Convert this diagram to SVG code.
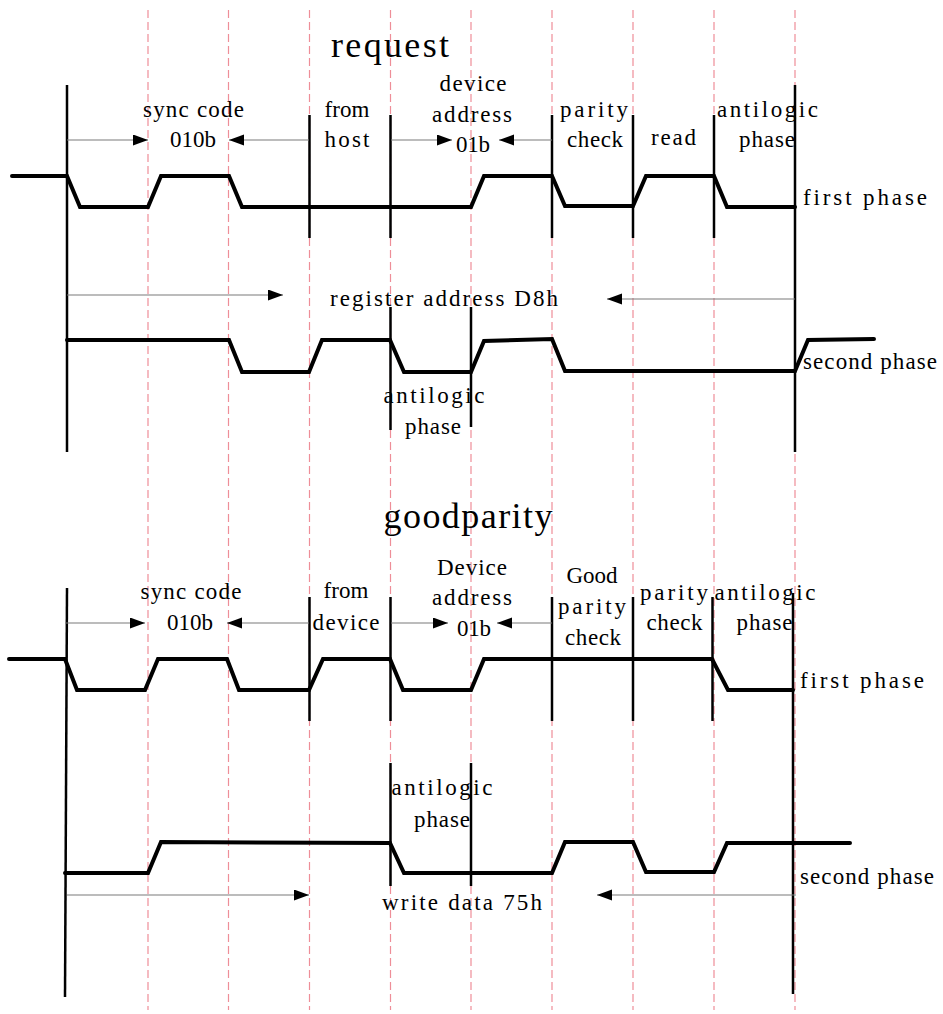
<svg xmlns="http://www.w3.org/2000/svg" width="943" height="1014" viewBox="0 0 943 1014">
<style>
.grid{stroke:#ee8e98;stroke-width:1.2;stroke-dasharray:8,4;fill:none}
.sig{stroke:#000;stroke-width:4;fill:none;stroke-linejoin:miter;stroke-linecap:round}
.bar{stroke:#000;stroke-width:2.5;fill:none}
.arr{stroke:#7a7a7a;stroke-width:1.2;fill:none;marker-end:url(#ah)}
text{font-family:"Liberation Serif","DejaVu Serif",serif;font-size:23px;fill:#000;text-anchor:middle}
.title{font-size:36px}
.lft{text-anchor:start}
</style>
<defs>
<marker id="ah" markerUnits="userSpaceOnUse" markerWidth="16" markerHeight="12" refX="15" refY="5.5" orient="auto">
<path d="M0,0 L15,5.5 L0,11 Z" fill="#000"/>
</marker>
</defs>
<rect width="943" height="1014" fill="#fff"/>
<g id="grid">
<line class="grid" x1="148" y1="10" x2="148" y2="1010"/>
<line class="grid" x1="228.5" y1="10" x2="228.5" y2="1010"/>
<line class="grid" x1="309.5" y1="10" x2="309.5" y2="1010"/>
<line class="grid" x1="390.5" y1="10" x2="390.5" y2="1010"/>
<line class="grid" x1="471" y1="10" x2="471" y2="1010"/>
<line class="grid" x1="552" y1="10" x2="552" y2="1010"/>
<line class="grid" x1="633" y1="10" x2="633" y2="1010"/>
<line class="grid" x1="714" y1="10" x2="714" y2="1010"/>
<line class="grid" x1="795" y1="10" x2="795" y2="1010"/>
</g>
<g id="request">
<text class="title" x="390" y="57" textLength="118" lengthAdjust="spacing">request</text>
<line class="bar" x1="67" y1="85" x2="67" y2="452"/>
<line class="bar" x1="795" y1="85" x2="795" y2="452"/>
<line class="bar" x1="309.5" y1="115" x2="309.5" y2="238"/>
<line class="bar" x1="390.5" y1="115" x2="390.5" y2="238"/>
<line class="bar" x1="552" y1="115" x2="552" y2="238"/>
<line class="bar" x1="633" y1="115" x2="633" y2="238"/>
<line class="bar" x1="714" y1="115" x2="714" y2="238"/>
<line class="bar" x1="390.5" y1="307" x2="390.5" y2="430"/>
<line class="bar" x1="471" y1="307" x2="471" y2="427"/>
<path class="sig" d="M12,176 L67,176 L80,207 L148,207 L161,176 L229,176 L242,207 L471,207 L484,176 L552,176 L565,206 L633,206 L646,176 L714,176 L727,207 L795,207"/>
<path class="sig" d="M67,340 L229,340 L242,372 L309,372 L322,340 L390,340 L404,372 L471,372 L484,341 L552,339 L565,371 L795,371 L808,340 L874,339"/>
<text x="193.5" y="117" textLength="101" lengthAdjust="spacing">sync code</text>
<text x="193" y="147" textLength="46" lengthAdjust="spacing">010b</text>
<text x="347" y="117" textLength="45" lengthAdjust="spacing">from</text>
<text x="347" y="147" textLength="45" lengthAdjust="spacing">host</text>
<text x="473" y="91" textLength="67" lengthAdjust="spacing">device</text>
<text x="472" y="122" textLength="80" lengthAdjust="spacing">address</text>
<text x="473" y="152" textLength="34" lengthAdjust="spacing">01b</text>
<text x="594" y="117" textLength="68" lengthAdjust="spacing">parity</text>
<text x="595" y="147" textLength="56" lengthAdjust="spacing">check</text>
<text x="673.5" y="145" textLength="45" lengthAdjust="spacing">read</text>
<text x="767.5" y="117" textLength="101" lengthAdjust="spacing">antilogic</text>
<text x="767" y="147" textLength="56" lengthAdjust="spacing">phase</text>
<text class="lft" x="803" y="205" textLength="124" lengthAdjust="spacing">first phase</text>
<text x="444" y="306" textLength="228" lengthAdjust="spacing">register address D8h</text>
<text class="lft" x="803" y="369" textLength="134" lengthAdjust="spacing">second phase</text>
<text x="434" y="403" textLength="101" lengthAdjust="spacing">antilogic</text>
<text x="433" y="434" textLength="56" lengthAdjust="spacing">phase</text>
</g>
<g id="goodparity">
<text class="title" x="468" y="528" textLength="169" lengthAdjust="spacing">goodparity</text>
<line class="bar" x1="67" y1="588" x2="65" y2="997"/>
<line class="bar" x1="793" y1="593" x2="793" y2="994"/>
<line class="bar" x1="309.5" y1="597" x2="309.5" y2="721"/>
<line class="bar" x1="390.5" y1="597" x2="390.5" y2="721"/>
<line class="bar" x1="552" y1="597" x2="552" y2="721"/>
<line class="bar" x1="633" y1="597" x2="633" y2="721"/>
<line class="bar" x1="712.5" y1="597" x2="712.5" y2="721"/>
<line class="bar" x1="390.5" y1="763" x2="390.5" y2="886"/>
<line class="bar" x1="471" y1="763" x2="471" y2="886"/>
<path class="sig" d="M9,659 L65,659 L77,690 L145,690 L158,659 L227,659 L239,690 L309,690 L323,659 L390,659 L403,690 L471,690 L484,659 L712,659 L728,690 L793,690"/>
<path class="sig" d="M65,873 L148,873 L161,842 L390,843 L404,873 L552,873 L565,842 L633,842 L646,872 L714,872 L727,843 L850,843"/>
<text x="191" y="599" textLength="101" lengthAdjust="spacing">sync code</text>
<text x="190" y="630" textLength="46" lengthAdjust="spacing">010b</text>
<text x="346" y="598" textLength="45" lengthAdjust="spacing">from</text>
<text x="346" y="630" textLength="67" lengthAdjust="spacing">device</text>
<text x="472" y="575" textLength="70" lengthAdjust="spacing">Device</text>
<text x="472" y="605" textLength="80" lengthAdjust="spacing">address</text>
<text x="474" y="636" textLength="34" lengthAdjust="spacing">01b</text>
<text x="592" y="583">Good</text>
<text x="592" y="614" textLength="68" lengthAdjust="spacing">parity</text>
<text x="593" y="645" textLength="56" lengthAdjust="spacing">check</text>
<text x="674" y="600" textLength="68" lengthAdjust="spacing">parity</text>
<text x="674.5" y="630" textLength="56" lengthAdjust="spacing">check</text>
<text x="765" y="600" textLength="101" lengthAdjust="spacing">antilogic</text>
<text x="764.5" y="630" textLength="56" lengthAdjust="spacing">phase</text>
<text class="lft" x="800" y="688" textLength="124" lengthAdjust="spacing">first phase</text>
<text x="442" y="795" textLength="101" lengthAdjust="spacing">antilogic</text>
<text x="442" y="827" textLength="56" lengthAdjust="spacing">phase</text>
<text x="462" y="910" textLength="160" lengthAdjust="spacing">write data 75h</text>
<text class="lft" x="800" y="884" textLength="134" lengthAdjust="spacing">second phase</text>
</g>
<g id="connectors">
<line class="arr" x1="67" y1="140" x2="148" y2="140"/>
<line class="arr" x1="309" y1="140" x2="229" y2="140"/>
<line class="arr" x1="391" y1="140" x2="452" y2="140"/>
<line class="arr" x1="552" y1="140" x2="499" y2="140"/>
<line class="arr" x1="67" y1="295" x2="283" y2="295"/>
<line class="arr" x1="795" y1="299" x2="607" y2="299"/>
<line class="arr" x1="65" y1="623" x2="145" y2="623"/>
<line class="arr" x1="309" y1="623" x2="227" y2="623"/>
<line class="arr" x1="391" y1="623" x2="448" y2="623"/>
<line class="arr" x1="552" y1="623" x2="497" y2="623"/>
<line class="arr" x1="67" y1="895" x2="309" y2="895"/>
<line class="arr" x1="796" y1="895" x2="597" y2="895"/>
</g>
</svg>
